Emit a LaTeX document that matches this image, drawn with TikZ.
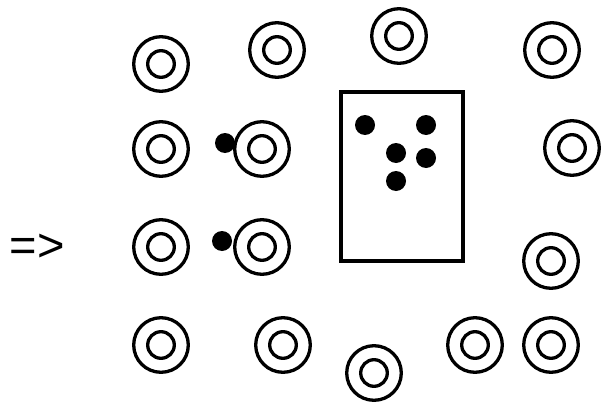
\documentclass[tikz,border=0pt]{standalone}
\usepackage{fontspec}
\setmainfont{Liberation Sans}
\begin{document}
\begin{tikzpicture}[x=1pt,y=-1pt,line width=3.3pt,ring/.style={circle,draw,minimum size=54.6pt,inner sep=0pt},hole/.style={circle,draw,minimum size=26.6pt,inner sep=0pt},dot/.style={circle,fill,minimum size=20pt,inner sep=0pt}]
\useasboundingbox (0,0) rectangle (601,401);
\node[font=\fontsize{47}{47}\selectfont,inner sep=0pt] (arrow) at (37,248) {=>};
\foreach \x/\y [count=\i] in {161/64,277/50,399/36,552/50,161/149,262/149,572/148,161/247,262/247,551/261,161/345,283/345,374/373,475/345,551/345}{
  \node[ring] (r\i) at (\x,\y) {};
  \node[hole] (h\i) at (r\i) {};
}
\node[draw,minimum width=122pt,minimum height=169pt,inner sep=0pt] (box) at (402,176.5) {};
\node[dot] (d1) at (365,125) {};
\node[dot] (d2) at (426,125) {};
\node[dot] (d3) at (396,153) {};
\node[dot] (d4) at (426,158) {};
\node[dot] (d5) at (396,181) {};
\node[dot] (p1) at (225,143) {};
\node[dot] (p2) at (222,241) {};
\end{tikzpicture}
\end{document}
